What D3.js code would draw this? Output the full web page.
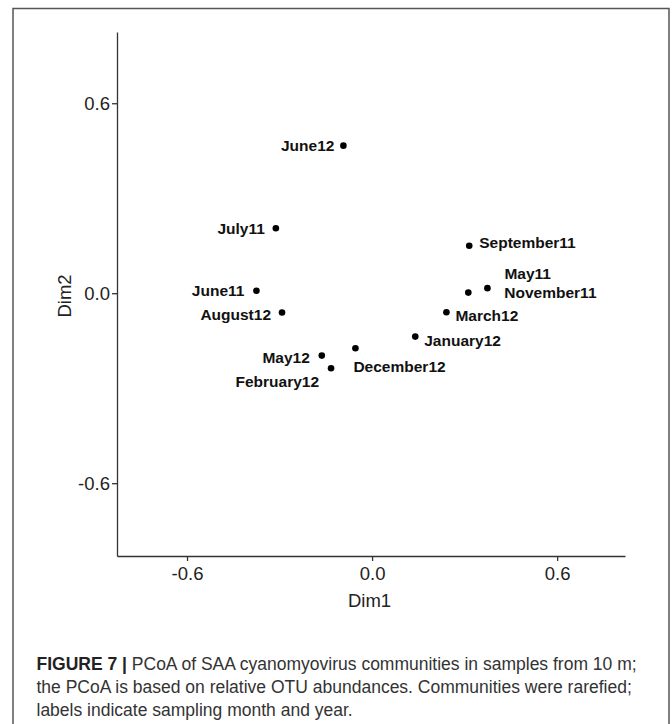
<!DOCTYPE html>
<html lang="en"><head>
<meta charset="utf-8"/>
<title>PCoA of SAA cyanomyovirus communities</title>
<script src="https://d3js.org/d3.v7.min.js"></script>
<style>
    body {width: 672px; height: 724px; margin: 0; padding: 0; background: #fff;
        font-family: 'Liberation Sans', Arial, sans-serif;}
    .axis path, .axis line {stroke: #333; stroke-width: 1.3px;}
    .axis text {font-size: 18.5px; fill: #222; font-family: 'Liberation Sans', Arial, sans-serif;}
    .lbl {font-size: 15.5px; font-weight: bold; fill: #111;}
    .cap {font-size: 17.5px; fill: #333;}
</style>
</head>
<body>
<div id="chart"></div>
<script>
    // Samples and their PCoA coordinates
    const samples = ["June12", "July11", "June11", "August12", "May12", "February12",
        "December12", "January12", "March12", "November11", "May11", "September11"];
    const dim1 = [-0.093, -0.312, -0.375, -0.292, -0.163, -0.133,
        -0.054, 0.140, 0.241, 0.312, 0.374, 0.315];
    const dim2 = [0.466, 0.205, 0.008, -0.061, -0.197, -0.237,
        -0.174, -0.137, -0.060, 0.002, 0.016, 0.150];
    const ticks = [-0.6, 0.0, 0.6];

    // label placement (repel-style offsets from the point, in px)
    const labelPos = {
        "June12": [-9, 0, "end"], "July11": [-11, 0, "end"], "June11": [-12, 0, "end"],
        "August12": [-11, 2, "end"], "May12": [-12, 1.5, "end"], "February12": [-12, 13.5, "end"],
        "December12": [-2, 18, "start"], "January12": [9, 4, "start"], "March12": [9, 3.5, "start"],
        "November11": [36, 0, "start"], "May11": [17, -15, "start"], "September11": [10, -3.5, "start"]
    };

    const W = 672, H = 724;
    const svg = d3.select("#chart").append("svg")
        .attr("width", W).attr("height", H);

    // figure frame (open at the bottom)
    svg.append("path")
        .attr("d", "M13,724V8.5H669V724")
        .attr("fill", "none").attr("stroke", "#555").attr("stroke-width", 1.5);

    const x = d3.scaleLinear().domain([-0.827, 0.82]).range([117, 625]);
    const y = d3.scaleLinear().domain([-0.83, 0.825]).range([556, 32]);
    const fmt = d => d.toFixed(1);

    svg.append("g")
        .attr("class", "axis x")
        .attr("transform", "translate(0,556)")
        .call(d3.axisBottom(x).tickValues(ticks).tickFormat(fmt)
            .tickSize(5).tickSizeOuter(0).tickPadding(5.5));

    svg.append("g")
        .attr("class", "axis y")
        .attr("transform", "translate(117,0)")
        .call(d3.axisLeft(y).tickValues(ticks).tickFormat(fmt)
            .tickSize(5).tickSizeOuter(0).tickPadding(2));

    // axis titles
    svg.append("text")
        .attr("x", 369.5).attr("y", 606.5)
        .attr("text-anchor", "middle")
        .style("font-size", "18.5px").style("fill", "#222")
        .text("Dim1");
    svg.append("text")
        .attr("transform", "translate(71,296) rotate(-90)")
        .attr("text-anchor", "middle")
        .style("font-size", "18.5px").style("fill", "#222")
        .text("Dim2");

    const pts = samples.map((s, i) => ({name: s, d1: dim1[i], d2: dim2[i]}));

    svg.selectAll(".pt")
        .data(pts)
        .enter()
        .append("circle")
        .attr("class", "pt")
        .attr("cx", d => x(d.d1))
        .attr("cy", d => y(d.d2))
        .attr("r", 3.3)
        .attr("fill", "#000");

    svg.selectAll(".lbl")
        .data(pts)
        .enter()
        .append("text")
        .attr("class", "lbl")
        .attr("x", d => x(d.d1) + labelPos[d.name][0])
        .attr("y", d => y(d.d2) + labelPos[d.name][1])
        .attr("dy", "0.36em")
        .attr("text-anchor", d => labelPos[d.name][2])
        .text(d => d.name);

    // caption
    const capLines = [
        [["FIGURE 7 | ", true], ["PCoA of SAA cyanomyovirus communities in samples from 10 m;", false]],
        [["the PCoA is based on relative OTU abundances. Communities were rarefied;", false]],
        [["labels indicate sampling month and year.", false]]
    ];
    capLines.forEach((line, i) => {
        const t = svg.append("text")
            .attr("class", "cap")
            .attr("x", 36.5)
            .attr("y", 670 + i * 23);
        line.forEach(seg => {
            t.append("tspan")
                .style("font-weight", seg[1] ? "bold" : "normal")
                .style("fill", seg[1] ? "#222" : "#333")
                .text(seg[0]);
        });
    });
</script>
</body></html>
